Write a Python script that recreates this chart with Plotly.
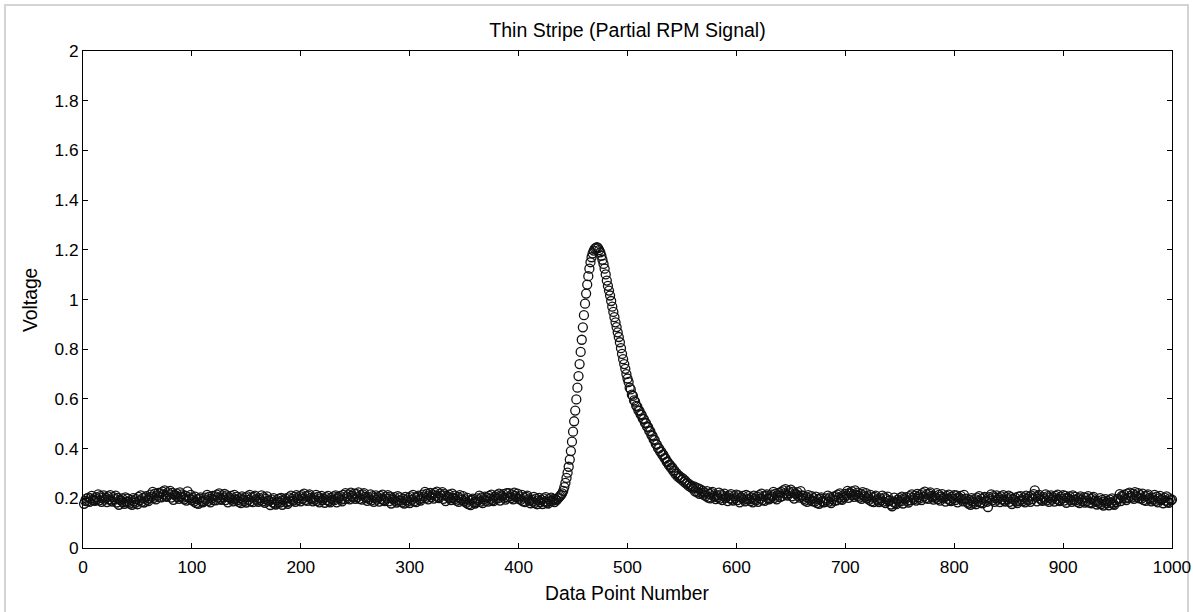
import plotly.graph_objects as go

title_text = "Thin Stripe (Partial RPM Signal)"
x_label = "Data Point Number"
y_label = "Voltage"
x_ticks = [0, 100, 200, 300, 400, 500, 600, 700, 800, 900, 1000]
y_ticks = [0, 0.2, 0.4, 0.6, 0.8, 1.0, 1.2, 1.4, 1.6, 1.8, 2.0]
y_tick_labels = ["0", "0.2", "0.4", "0.6", "0.8", "1", "1.2", "1.4", "1.6", "1.8", "2"]

# data points 1..440
left_baseline = [
    0.178, 0.190, 0.199, 0.188, 0.203, 0.186, 0.200, 0.210, 0.195, 0.192,
    0.190, 0.205, 0.197, 0.216, 0.192, 0.209, 0.186, 0.202, 0.212, 0.195,
    0.202, 0.185, 0.208, 0.196, 0.213, 0.191, 0.187, 0.205, 0.197, 0.211,
    0.183, 0.202, 0.174, 0.195, 0.191, 0.200, 0.185, 0.178, 0.204, 0.187,
    0.199, 0.186, 0.179, 0.194, 0.174, 0.201, 0.188, 0.182, 0.197, 0.176,
    0.206, 0.192, 0.212, 0.186, 0.201, 0.183, 0.204, 0.209, 0.194, 0.189,
    0.200, 0.215, 0.207, 0.226, 0.202, 0.219, 0.196, 0.212, 0.222, 0.205,
    0.221, 0.204, 0.227, 0.215, 0.232, 0.210, 0.206, 0.224, 0.216, 0.230,
    0.203, 0.222, 0.194, 0.215, 0.211, 0.220, 0.205, 0.198, 0.224, 0.207,
    0.216, 0.203, 0.196, 0.211, 0.191, 0.228, 0.205, 0.199, 0.214, 0.193,
    0.201, 0.187, 0.207, 0.181, 0.196, 0.178, 0.199, 0.204, 0.189, 0.184,
    0.188, 0.203, 0.195, 0.214, 0.190, 0.207, 0.184, 0.200, 0.210, 0.193,
    0.209, 0.192, 0.215, 0.203, 0.220, 0.198, 0.194, 0.212, 0.204, 0.218,
    0.193, 0.212, 0.184, 0.205, 0.201, 0.210, 0.195, 0.188, 0.214, 0.197,
    0.206, 0.193, 0.186, 0.201, 0.181, 0.208, 0.195, 0.189, 0.204, 0.183,
    0.208, 0.194, 0.214, 0.188, 0.203, 0.185, 0.206, 0.211, 0.196, 0.191,
    0.186, 0.201, 0.193, 0.212, 0.188, 0.205, 0.182, 0.198, 0.208, 0.191,
    0.190, 0.173, 0.196, 0.184, 0.201, 0.179, 0.175, 0.193, 0.185, 0.199,
    0.183, 0.202, 0.174, 0.195, 0.191, 0.200, 0.185, 0.178, 0.204, 0.187,
    0.211, 0.198, 0.191, 0.206, 0.186, 0.213, 0.200, 0.194, 0.209, 0.188,
    0.213, 0.199, 0.219, 0.193, 0.208, 0.190, 0.211, 0.216, 0.201, 0.196,
    0.188, 0.203, 0.195, 0.214, 0.190, 0.207, 0.184, 0.200, 0.210, 0.193,
    0.199, 0.182, 0.205, 0.193, 0.210, 0.188, 0.184, 0.202, 0.194, 0.208,
    0.193, 0.212, 0.184, 0.205, 0.201, 0.210, 0.195, 0.188, 0.214, 0.197,
    0.221, 0.208, 0.201, 0.216, 0.196, 0.223, 0.210, 0.204, 0.219, 0.198,
    0.218, 0.204, 0.224, 0.198, 0.213, 0.195, 0.216, 0.221, 0.206, 0.201,
    0.190, 0.205, 0.197, 0.216, 0.192, 0.209, 0.186, 0.202, 0.212, 0.195,
    0.204, 0.187, 0.210, 0.198, 0.215, 0.193, 0.189, 0.207, 0.199, 0.213,
    0.188, 0.207, 0.179, 0.200, 0.196, 0.205, 0.190, 0.183, 0.209, 0.192,
    0.204, 0.191, 0.184, 0.199, 0.179, 0.206, 0.193, 0.187, 0.202, 0.181,
    0.208, 0.194, 0.214, 0.188, 0.203, 0.185, 0.206, 0.211, 0.196, 0.191,
    0.200, 0.215, 0.207, 0.226, 0.202, 0.219, 0.196, 0.212, 0.222, 0.205,
    0.216, 0.199, 0.222, 0.210, 0.227, 0.205, 0.201, 0.219, 0.211, 0.225,
    0.198, 0.217, 0.189, 0.210, 0.206, 0.215, 0.200, 0.193, 0.219, 0.202,
    0.211, 0.198, 0.191, 0.206, 0.186, 0.213, 0.200, 0.194, 0.209, 0.188,
    0.196, 0.182, 0.202, 0.176, 0.191, 0.173, 0.194, 0.199, 0.184, 0.179,
    0.185, 0.200, 0.192, 0.211, 0.187, 0.204, 0.181, 0.197, 0.207, 0.190,
    0.204, 0.187, 0.210, 0.198, 0.215, 0.193, 0.189, 0.207, 0.199, 0.213,
    0.200, 0.219, 0.191, 0.212, 0.208, 0.217, 0.202, 0.195, 0.221, 0.204,
    0.221, 0.208, 0.201, 0.216, 0.196, 0.223, 0.210, 0.204, 0.219, 0.198,
    0.208, 0.194, 0.214, 0.188, 0.203, 0.185, 0.206, 0.211, 0.196, 0.191,
    0.180, 0.195, 0.187, 0.206, 0.182, 0.199, 0.176, 0.192, 0.202, 0.185,
    0.194, 0.177, 0.200, 0.188, 0.205, 0.183, 0.179, 0.197, 0.189, 0.203,
    0.190, 0.198, 0.185, 0.196, 0.193, 0.200, 0.204, 0.209, 0.214, 0.220,
]

# data points 441..600
pulse = [
    0.230, 0.245, 0.262, 0.282, 0.303, 0.327, 0.356, 0.390, 0.428, 0.468,
    0.510, 0.553, 0.598, 0.645, 0.692, 0.740, 0.789, 0.838, 0.888, 0.937,
    0.983, 1.024, 1.060, 1.094, 1.124, 1.150, 1.170, 1.186, 1.197, 1.205,
    1.208, 1.211, 1.207, 1.199, 1.190, 1.176, 1.160, 1.143, 1.124, 1.101,
    1.076, 1.055, 1.036, 1.016, 0.994, 0.971, 0.950, 0.929, 0.908, 0.889,
    0.868, 0.849, 0.828, 0.804, 0.781, 0.760, 0.740, 0.721, 0.700, 0.682,
    0.668, 0.645, 0.638, 0.617, 0.612, 0.594, 0.589, 0.572, 0.569, 0.554,
    0.552, 0.538, 0.536, 0.521, 0.519, 0.504, 0.502, 0.488, 0.486, 0.471,
    0.469, 0.454, 0.451, 0.437, 0.434, 0.419, 0.416, 0.402, 0.401, 0.388,
    0.388, 0.375, 0.375, 0.362, 0.360, 0.347, 0.346, 0.334, 0.334, 0.322,
    0.324, 0.310, 0.312, 0.298, 0.301, 0.288, 0.292, 0.281, 0.285, 0.274,
    0.279, 0.266, 0.271, 0.259, 0.262, 0.251, 0.256, 0.245, 0.249, 0.239,
    0.248, 0.228, 0.243, 0.224, 0.240, 0.218, 0.236, 0.222, 0.230, 0.214,
    0.223, 0.209, 0.229, 0.203, 0.218, 0.200, 0.221, 0.226, 0.211, 0.206,
    0.197, 0.212, 0.204, 0.223, 0.199, 0.216, 0.193, 0.209, 0.219, 0.202,
    0.206, 0.189, 0.212, 0.200, 0.217, 0.195, 0.191, 0.209, 0.201, 0.215,
]

# data points 601..1000
right_baseline = [
    0.193, 0.212, 0.184, 0.205, 0.201, 0.210, 0.195, 0.188, 0.214, 0.197,
    0.209, 0.196, 0.189, 0.204, 0.184, 0.211, 0.198, 0.192, 0.207, 0.186,
    0.213, 0.199, 0.219, 0.193, 0.208, 0.190, 0.211, 0.216, 0.201, 0.196,
    0.200, 0.215, 0.207, 0.226, 0.202, 0.219, 0.196, 0.212, 0.222, 0.205,
    0.226, 0.209, 0.232, 0.220, 0.237, 0.215, 0.211, 0.229, 0.221, 0.235,
    0.208, 0.227, 0.199, 0.220, 0.216, 0.225, 0.210, 0.203, 0.229, 0.212,
    0.211, 0.198, 0.191, 0.206, 0.186, 0.213, 0.200, 0.194, 0.209, 0.188,
    0.201, 0.187, 0.207, 0.181, 0.196, 0.178, 0.199, 0.204, 0.189, 0.184,
    0.185, 0.200, 0.192, 0.211, 0.187, 0.204, 0.181, 0.197, 0.207, 0.190,
    0.209, 0.192, 0.215, 0.203, 0.220, 0.198, 0.194, 0.212, 0.204, 0.218,
    0.211, 0.230, 0.202, 0.223, 0.219, 0.228, 0.213, 0.206, 0.232, 0.215,
    0.223, 0.210, 0.203, 0.218, 0.198, 0.225, 0.212, 0.206, 0.221, 0.200,
    0.208, 0.194, 0.214, 0.188, 0.203, 0.185, 0.206, 0.211, 0.196, 0.191,
    0.185, 0.200, 0.192, 0.211, 0.187, 0.204, 0.181, 0.197, 0.207, 0.190,
    0.192, 0.175, 0.168, 0.186, 0.203, 0.181, 0.177, 0.195, 0.187, 0.201,
    0.188, 0.207, 0.179, 0.200, 0.196, 0.205, 0.190, 0.183, 0.209, 0.192,
    0.216, 0.203, 0.196, 0.211, 0.191, 0.218, 0.205, 0.199, 0.214, 0.193,
    0.221, 0.207, 0.227, 0.201, 0.216, 0.198, 0.219, 0.224, 0.209, 0.204,
    0.195, 0.210, 0.202, 0.221, 0.197, 0.214, 0.191, 0.207, 0.217, 0.200,
    0.204, 0.187, 0.210, 0.198, 0.215, 0.193, 0.189, 0.207, 0.199, 0.213,
    0.193, 0.212, 0.184, 0.205, 0.201, 0.210, 0.195, 0.188, 0.214, 0.197,
    0.199, 0.186, 0.179, 0.194, 0.174, 0.201, 0.188, 0.182, 0.197, 0.176,
    0.203, 0.189, 0.209, 0.183, 0.198, 0.180, 0.201, 0.206, 0.191, 0.186,
    0.165, 0.205, 0.197, 0.216, 0.192, 0.209, 0.186, 0.202, 0.212, 0.195,
    0.202, 0.185, 0.208, 0.196, 0.213, 0.191, 0.187, 0.205, 0.197, 0.211,
    0.186, 0.205, 0.177, 0.198, 0.194, 0.203, 0.188, 0.181, 0.207, 0.190,
    0.209, 0.196, 0.189, 0.204, 0.184, 0.211, 0.198, 0.192, 0.207, 0.186,
    0.211, 0.197, 0.217, 0.232, 0.206, 0.188, 0.209, 0.214, 0.199, 0.194,
    0.190, 0.205, 0.197, 0.216, 0.192, 0.209, 0.186, 0.202, 0.212, 0.195,
    0.204, 0.187, 0.210, 0.198, 0.215, 0.193, 0.189, 0.207, 0.199, 0.213,
    0.191, 0.210, 0.182, 0.203, 0.199, 0.208, 0.193, 0.186, 0.212, 0.195,
    0.206, 0.193, 0.186, 0.201, 0.181, 0.208, 0.195, 0.189, 0.204, 0.183,
    0.203, 0.189, 0.209, 0.183, 0.198, 0.180, 0.201, 0.206, 0.191, 0.186,
    0.175, 0.190, 0.182, 0.201, 0.177, 0.194, 0.171, 0.187, 0.197, 0.180,
    0.189, 0.172, 0.195, 0.183, 0.200, 0.178, 0.174, 0.192, 0.184, 0.198,
    0.198, 0.217, 0.189, 0.210, 0.206, 0.215, 0.200, 0.193, 0.219, 0.202,
    0.223, 0.210, 0.203, 0.218, 0.198, 0.225, 0.212, 0.206, 0.221, 0.200,
    0.213, 0.199, 0.219, 0.193, 0.208, 0.190, 0.211, 0.216, 0.201, 0.196,
    0.188, 0.203, 0.195, 0.214, 0.190, 0.207, 0.184, 0.200, 0.210, 0.193,
    0.197, 0.180, 0.203, 0.191, 0.208, 0.186, 0.182, 0.200, 0.192, 0.195,
]

assert len(left_baseline) == 440, len(left_baseline)
assert len(pulse) == 160, len(pulse)
assert len(right_baseline) == 400, len(right_baseline)

voltage = left_baseline + pulse + right_baseline
data_point = list(range(1, len(voltage) + 1))

FONT = "Liberation Sans, Arial, sans-serif"

fig = go.Figure()
fig.add_trace(go.Scatter(
    x=data_point, y=voltage, mode="markers",
    marker=dict(symbol="circle-open", size=9, color="#111111",
                line=dict(color="#111111", width=1.3)),
    cliponaxis=False, showlegend=False, hoverinfo="skip",
))

# page is rendered with the body margin removed, so these are screen pixels
W, H = 1193, 612
L, R, T, B = 83, 21, 51, 64
pw, ph = W - L - R, H - T - B


def px_x(px):
    return (px - L) / pw


def px_y(py):
    return (H - B - py) / ph


fig.update_layout(
    width=W, height=H,
    margin=dict(l=L, r=R, t=T, b=B, autoexpand=False),
    paper_bgcolor="white", plot_bgcolor="white",
    font=dict(family=FONT, size=17, color="black"),
    title=dict(text=title_text, x=(L + pw / 2) / W, xanchor="center",
               y=1 - 30 / H, yanchor="middle", font=dict(size=19.5)),
    xaxis=dict(range=[0, 1000], tickvals=x_ticks, ticks="inside", ticklen=5,
               tickcolor="black", showline=True, linecolor="black", linewidth=1,
               mirror="ticks", showgrid=False, zeroline=False, automargin=False,
               tickfont=dict(size=17.3), ticklabelstandoff=3),
    yaxis=dict(range=[0, 2], tickvals=y_ticks, ticktext=y_tick_labels,
               ticks="inside", ticklen=5, tickcolor="black", showline=True,
               linecolor="black", linewidth=1, mirror="ticks", showgrid=False,
               zeroline=False, automargin=False, tickfont=dict(size=17.3)),
)

# axis titles placed as text at the reference positions
fig.add_annotation(text=x_label, xref="paper", yref="paper",
                   x=0.5, y=px_y(593), xanchor="center", yanchor="middle",
                   showarrow=False, font=dict(size=19.3))
fig.add_annotation(text=y_label, xref="paper", yref="paper",
                   x=px_x(30), y=px_y(300), xanchor="center", yanchor="middle",
                   textangle=-90, showarrow=False, font=dict(size=19.3))

# light grey frame around the whole picture
fig.add_shape(type="rect", xref="paper", yref="paper",
              x0=px_x(5), x1=px_x(1188), y0=px_y(620), y1=px_y(5),
              line=dict(color="#d4d4d4", width=2), layer="below")

fig.write_html("out.html",
               config={"displayModeBar": False, "staticPlot": True},
               post_script="document.body.style.margin='0px';"
                           "document.body.style.padding='0px';"
                           "document.body.style.overflow='hidden';")
